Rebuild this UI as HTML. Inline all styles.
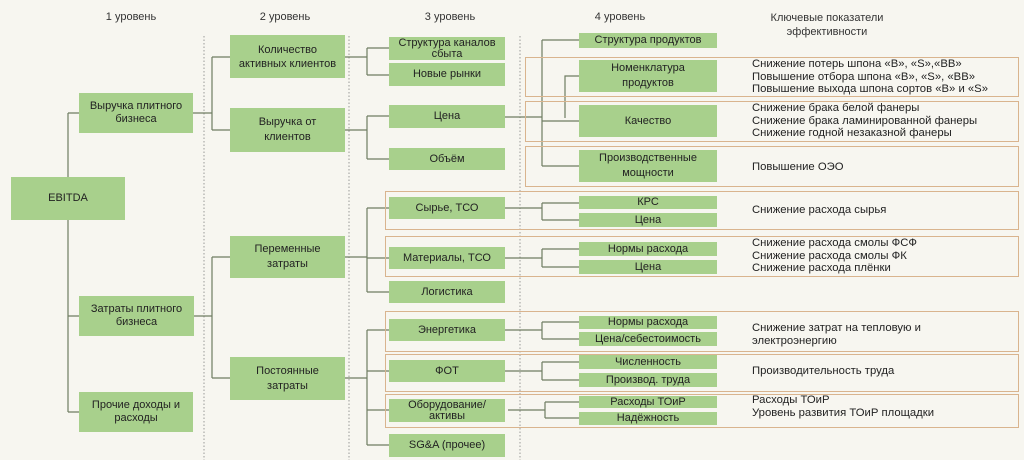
<!DOCTYPE html>
<html><head><meta charset="utf-8"><style>
body{margin:0;width:1024px;height:460px;background:#f7f6f0;position:relative;overflow:hidden;font-family:"Liberation Sans",sans-serif;color:#222}
.b{position:absolute;background:#a8d08c;display:flex;align-items:center;justify-content:center;text-align:center;font-size:11px;line-height:13px;box-sizing:border-box}
.h{position:absolute;font-size:11px;text-align:center;color:#333}
.k{position:absolute;left:752px;font-size:11.3px;line-height:12.7px;white-space:nowrap}
.o{position:absolute;border:1.3px solid #d9b48e;box-sizing:border-box}
svg{position:absolute;left:0;top:0}
</style></head><body>
<svg width="1024" height="460">
<g stroke="#999" stroke-dasharray="1.5,2" stroke-width="1">
<line x1="204" y1="36" x2="204" y2="460"/><line x1="349" y1="36" x2="349" y2="460"/><line x1="520" y1="36" x2="520" y2="460"/>
</g>
<g stroke="#6f7d62" stroke-width="1.2" fill="none">
<path d="M68 113V412M68 113H79M68 316H79M68 412H79"/>
<path d="M193 113H212M212 57V130M212 57H230M212 130H230"/>
<path d="M193 316H212M212 257V378M212 257H230M212 378H230"/>
<path d="M345 57H367M367 48V75M367 48H389M367 75H389"/>
<path d="M345 130H367M367 116V159M367 116H389M367 159H389"/>
<path d="M345 257H367M367 208V292M367 208H389M367 258H389M367 292H389"/>
<path d="M345 378H367M367 330V445M367 330H389M367 371H389M367 410H389M367 445H389"/>
<path d="M505 117H542M542 40V166M542 40H579M542 121H579M542 166H579M579 76H565V118"/>
<path d="M505 208H542M542 203V220M542 203H579M542 220H579"/>
<path d="M505 258H542M542 249V267M542 249H579M542 267H579"/>
<path d="M505 330H542M542 322V339M542 322H579M542 339H579"/>
<path d="M505 371H542M542 362V380M542 362H579M542 380H579"/>
<path d="M508 410H545M545 402V418M545 402H579M545 418H579"/>
</g>
</svg>
<div class="o" style="left:525px;top:57px;width:494px;height:40px"></div>
<div class="o" style="left:525px;top:101px;width:494px;height:41px"></div>
<div class="o" style="left:525px;top:146px;width:494px;height:41px"></div>
<div class="o" style="left:385px;top:191px;width:634px;height:39px"></div>
<div class="o" style="left:385px;top:236px;width:634px;height:41px"></div>
<div class="o" style="left:385px;top:311px;width:634px;height:41px"></div>
<div class="o" style="left:385px;top:354px;width:634px;height:38px"></div>
<div class="o" style="left:385px;top:394px;width:634px;height:34px"></div>

<div class="h" style="left:81px;top:11px;width:100px">1 уровень</div>
<div class="h" style="left:235px;top:11px;width:100px">2 уровень</div>
<div class="h" style="left:400px;top:11px;width:100px">3 уровень</div>
<div class="h" style="left:570px;top:11px;width:100px">4 уровень</div>
<div class="h" style="left:747px;top:11px;width:160px;line-height:14px">Ключевые показатели<br>эффективности</div>

<div class="b" style="left:11px;top:177px;width:114px;height:43px">EBITDA</div>
<div class="b" style="left:79px;top:93px;width:114px;height:40px">Выручка плитного<br>бизнеса</div>
<div class="b" style="left:79px;top:296px;width:115px;height:40px">Затраты плитного<br>бизнеса</div>
<div class="b" style="left:79px;top:392px;width:114px;height:40px">Прочие доходы и<br>расходы</div>

<div class="b" style="left:230px;top:35px;width:115px;height:43px;line-height:14px">Количество<br>активных клиентов</div>
<div class="b" style="left:230px;top:108px;width:115px;height:44px;line-height:15px">Выручка от<br>клиентов</div>
<div class="b" style="left:230px;top:236px;width:115px;height:42px;line-height:15px">Переменные<br>затраты</div>
<div class="b" style="left:230px;top:357px;width:115px;height:43px;line-height:15px">Постоянные<br>затраты</div>

<div class="b" style="left:389px;top:37px;width:116px;height:23px;line-height:11px">Структура каналов<br>сбыта</div>
<div class="b" style="left:389px;top:63px;width:116px;height:23px">Новые рынки</div>
<div class="b" style="left:389px;top:105px;width:116px;height:23px">Цена</div>
<div class="b" style="left:389px;top:148px;width:116px;height:22px">Объём</div>
<div class="b" style="left:389px;top:197px;width:116px;height:22px">Сырье, ТСО</div>
<div class="b" style="left:389px;top:247px;width:116px;height:22px">Материалы, ТСО</div>
<div class="b" style="left:389px;top:281px;width:116px;height:22px">Логистика</div>
<div class="b" style="left:389px;top:319px;width:116px;height:22px">Энергетика</div>
<div class="b" style="left:389px;top:360px;width:116px;height:22px">ФОТ</div>
<div class="b" style="left:389px;top:399px;width:116px;height:23px;line-height:11px">Оборудование/<br>активы</div>
<div class="b" style="left:389px;top:434px;width:116px;height:23px">SG&amp;A (прочее)</div>

<div class="b" style="left:579px;top:33px;width:138px;height:15px">Структура продуктов</div>
<div class="b" style="left:579px;top:60px;width:138px;height:32px;line-height:15px">Номенклатура<br>продуктов</div>
<div class="b" style="left:579px;top:105px;width:138px;height:32px">Качество</div>
<div class="b" style="left:579px;top:150px;width:138px;height:32px;line-height:15px">Производственные<br>мощности</div>
<div class="b" style="left:579px;top:196px;width:138px;height:13px">КРС</div>
<div class="b" style="left:579px;top:213px;width:138px;height:14px">Цена</div>
<div class="b" style="left:579px;top:242px;width:138px;height:14px">Нормы расхода</div>
<div class="b" style="left:579px;top:260px;width:138px;height:14px">Цена</div>
<div class="b" style="left:579px;top:316px;width:138px;height:13px">Нормы расхода</div>
<div class="b" style="left:579px;top:332px;width:138px;height:14px">Цена/себестоимость</div>
<div class="b" style="left:579px;top:355px;width:138px;height:14px">Численность</div>
<div class="b" style="left:579px;top:373px;width:138px;height:14px">Производ. труда</div>
<div class="b" style="left:579px;top:396px;width:138px;height:12px">Расходы ТОиР</div>
<div class="b" style="left:579px;top:412px;width:138px;height:13px">Надёжность</div>

<div class="k" style="top:58px">Снижение потерь шпона «B», «S»,«BB»<br>Повышение отбора шпона «B», «S», «BB»<br>Повышение выхода шпона сортов «B» и «S»</div>
<div class="k" style="top:102px">Снижение брака белой фанеры<br>Снижение брака ламинированной фанеры<br>Снижение годной незаказной фанеры</div>
<div class="k" style="top:161px">Повышение ОЭО</div>
<div class="k" style="top:204px">Снижение расхода сырья</div>
<div class="k" style="top:237px">Снижение расхода смолы ФСФ<br>Снижение расхода смолы ФК<br>Снижение расхода плёнки</div>
<div class="k" style="top:322px">Снижение затрат на тепловую и<br>электроэнергию</div>
<div class="k" style="top:365px">Производительность труда</div>
<div class="k" style="top:394px">Расходы ТОиР<br>Уровень развития ТОиР площадки</div>
</body></html>
